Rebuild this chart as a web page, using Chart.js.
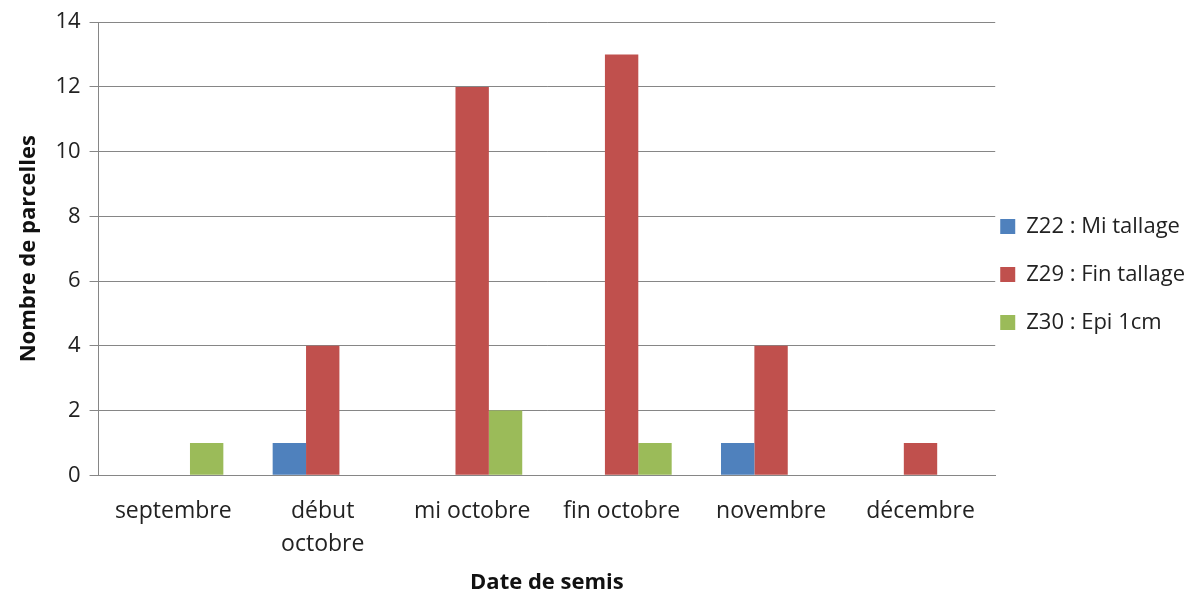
<!DOCTYPE html>
<html>
<head>
<meta charset="utf-8">
<script src="https://cdn.jsdelivr.net/npm/chart.js@4"></script>
<style>
  html, body { margin: 0; padding: 0; background: #fff; }
  #wrap { width: 1197px; height: 594px; }
</style>
</head>
<body>
<div id="wrap"><canvas id="chart" width="1197" height="594"></canvas></div>
<script>
// categories and series
var categories = ["septembre", ["début", "octobre"], "mi octobre", "fin octobre", "novembre", "décembre"];
var z22 = [0, 1, 0, 0, 1, 0];
var z29 = [0, 4, 12, 13, 4, 1];
var z30 = [1, 0, 2, 1, 0, 0];
var seriesNames = ["Z22 : Mi tallage", "Z29 : Fin tallage", "Z30 : Epi 1cm"];

var gridColor = '#868686';
var font = "'Open Sans', sans-serif";

// legend: keep the big vertical spacing between items but sit it close to the plot
var legendShiftX = 21;
var legendShiftY = 28;
var legendTweak = {
    id: 'legendTweak',
    beforeLayout: function(chart) {
        var lg = chart.legend;
        if (lg && !lg._patched) {
            var fit = lg.fit;
            lg.fit = function() {
                fit.call(this);
                this.width -= legendShiftX;
            };
            lg._patched = true;
        }
    },
    afterLayout: function(chart) {
        var lg = chart.legend;
        lg.left -= legendShiftX;
        lg.top -= legendShiftY;
        lg.bottom -= legendShiftY;
    }
};

var ctx = document.getElementById('chart').getContext('2d');
var chart = new Chart(ctx, {
    type: 'bar',
    data: {
        labels: categories,
        datasets: [
            { label: seriesNames[0], data: z22, backgroundColor: '#4F81BD' },
            { label: seriesNames[1], data: z29, backgroundColor: '#C0504D' },
            { label: seriesNames[2], data: z30, backgroundColor: '#9BBB59' }
        ]
    },
    plugins: [legendTweak],
    options: {
        responsive: false,
        animation: false,
        categoryPercentage: 0.67,
        barPercentage: 1.0,
        layout: { padding: { left: 12, right: 2, top: 11, bottom: 0 } },
        plugins: {
            tooltip: { enabled: false },
            legend: {
                position: 'right',
                labels: {
                    color: '#222',
                    font: { family: font, size: 22 },
                    boxWidth: 15,
                    boxHeight: 15,
                    padding: 26
                }
            }
        },
        scales: {
            x: {
                grid: { display: false },
                border: { display: true, color: gridColor },
                ticks: { color: '#222', font: { family: font, size: 23, lineHeight: 1.45 }, maxRotation: 0, padding: 11 },
                title: { display: true, text: 'Date de semis', color: '#111', font: { family: font, size: 22, weight: 'bold', lineHeight: 1.0 }, padding: { top: 0, bottom: 0 } }
            },
            y: {
                min: 0,
                max: 14,
                ticks: { stepSize: 2, color: '#222', font: { family: font, size: 22 }, padding: 9 },
                grid: { color: gridColor, lineWidth: 1, tickLength: 9 },
                border: { display: true, color: gridColor },
                title: { display: true, text: 'Nombre de parcelles', color: '#111', font: { family: font, size: 22, weight: 'bold' }, padding: { bottom: 4 } }
            }
        }
    }
});
</script>
</body>
</html>
